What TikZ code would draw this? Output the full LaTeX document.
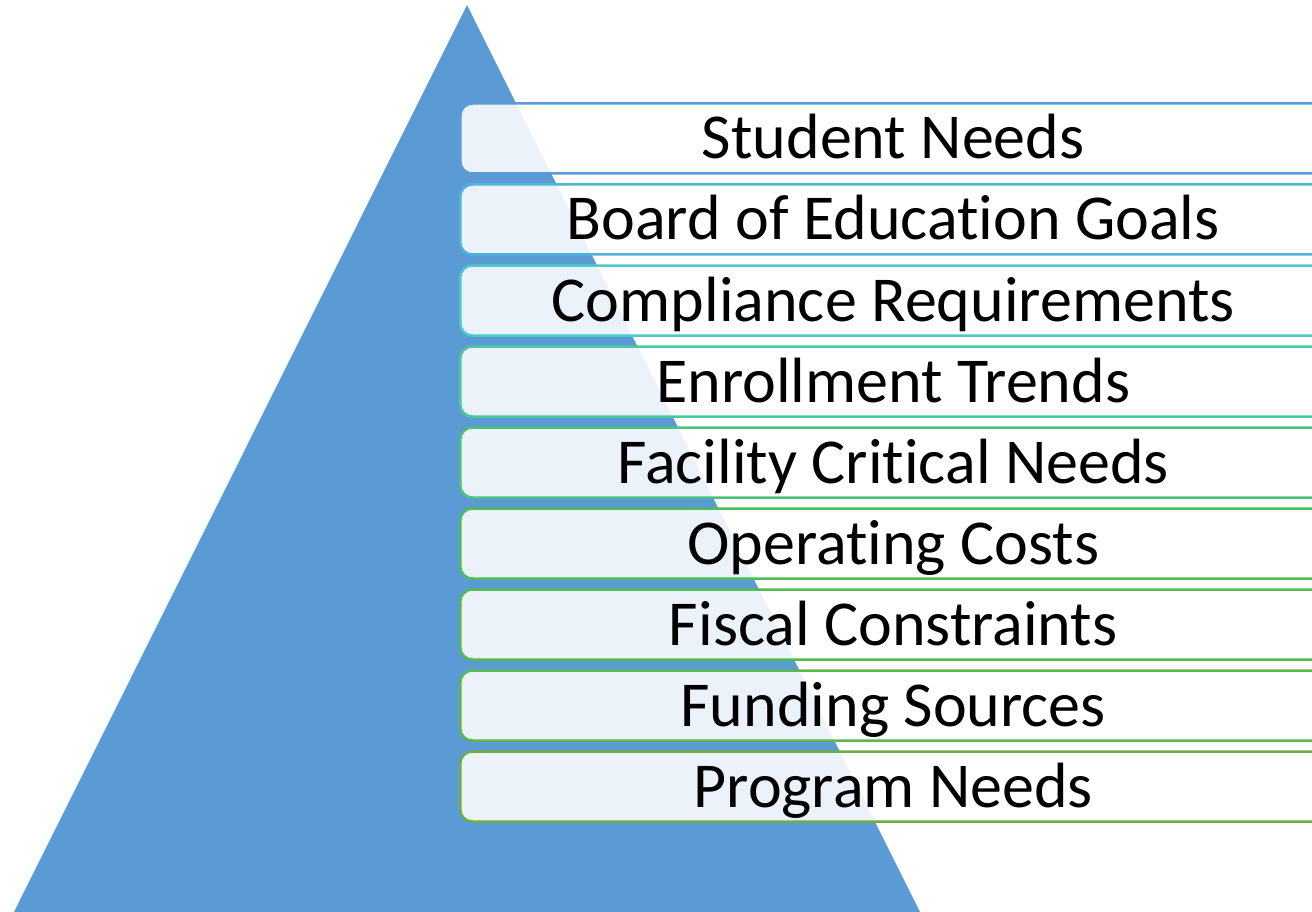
\documentclass[tikz,border=0pt]{standalone}
\usepackage{fontspec}
\setmainfont[Ligatures=NoCommon]{Carlito}
\definecolor{tri}{HTML}{5B9BD5}
\definecolor{c1}{HTML}{5B9BD5}
\definecolor{c2}{HTML}{4DB5D9}
\definecolor{c3}{HTML}{4CCACB}
\definecolor{c4}{HTML}{4CC79F}
\definecolor{c5}{HTML}{4CC27C}
\definecolor{c6}{HTML}{4DBD5B}
\definecolor{c7}{HTML}{52BA4E}
\definecolor{c8}{HTML}{5DB74E}
\definecolor{c9}{HTML}{70AD47}
\tikzset{
  item/.style={draw=#1, line width=2.5pt, rounded corners=12pt,
    fill=white, fill opacity=0.88, text opacity=1,
    minimum width=880pt, minimum height=70pt, inner sep=0pt,
    text height=41pt, text depth=0pt,
    font=\fontsize{64}{76}\selectfont, text=black},
}
\begin{document}
\begin{tikzpicture}[x=1pt,y=-1pt]
\useasboundingbox (0,0) rectangle (1312,912);
\clip (0,0) rectangle (1312,912);
\fill[tri] (467,5) -- (14,912) -- (920,912) -- cycle;
\foreach \t/\c [count=\i from 0] in {
  Student Needs/c1,
  Board of Education Goals/c2,
  Compliance Requirements/c3,
  Enrollment Trends/c4,
  Facility Critical Needs/c5,
  Operating Costs/c6,
  Fiscal Constraints/c7,
  Funding Sources/c8,
  Program Needs/c9}{
  \node[item=\c, anchor=west] (b\i) at (459, 138.5+81*\i) {\hspace*{-14pt}\t};
}
\end{tikzpicture}
\end{document}
